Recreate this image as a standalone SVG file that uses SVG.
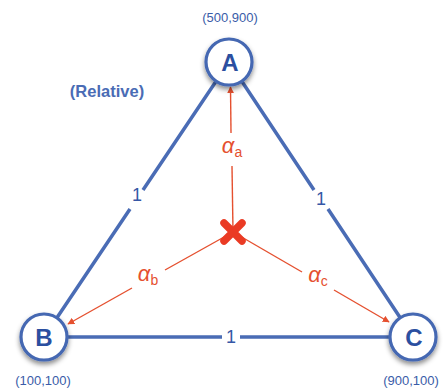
<svg xmlns="http://www.w3.org/2000/svg" width="444" height="388" viewBox="0 0 444 388">
<style>
.edge{stroke:#4a6cb5;stroke-width:3.5;fill:none;stroke-linecap:butt}
.red{stroke:#e5502f;stroke-width:1.4;fill:none}
.node{fill:#fff;stroke:#4467b2;stroke-width:3.2}
.letter{font-family:"Liberation Sans",Arial,sans-serif;font-weight:bold;font-size:24px;fill:#2b4fa0;text-anchor:middle}
.coord{font-family:"Liberation Sans",Arial,sans-serif;font-size:13px;fill:#3a5ca8;text-anchor:middle}
.one{font-family:"Liberation Sans",Arial,sans-serif;font-size:18px;fill:#3557a6;text-anchor:middle}
.alpha{font-family:"Liberation Sans",Arial,sans-serif;font-size:22px;font-style:italic;fill:#e5502f;text-anchor:middle}
.sub{font-size:14px;font-style:normal}
</style>
<defs>
<filter id="sh" x="-50%" y="-50%" width="200%" height="200%">
<feDropShadow dx="0" dy="3" stdDeviation="2.5" flood-color="#000" flood-opacity="0.45"/>
</filter>
<marker id="ah" viewBox="0 0 10 10" refX="9" refY="5" markerWidth="7" markerHeight="7" orient="auto" markerUnits="userSpaceOnUse">
<path d="M0,0 L10,5 L0,10 z" fill="#e5502f"/>
</marker>
</defs>
<g id="connectors">
<path class="edge" d="M229,62 L143,190 M130,209 L44,337"/>
<path class="edge" d="M229,62 L314,190 M328,209 L413,337"/>
<path class="edge" d="M44,337 L222,337 M240,337 L413,337"/>
<text class="one" x="137" y="201">1</text>
<text class="one" x="321" y="205">1</text>
<text class="one" x="231" y="343">1</text>
<path class="red" d="M233,232 L232,166"/>
<path class="red" d="M231,133 L230.5,87" marker-end="url(#ah)"/>
<path class="red" d="M233,232 L165,270"/>
<path class="red" d="M132,288 L68,324" marker-end="url(#ah)"/>
<path class="red" d="M233,232 L302,272"/>
<path class="red" d="M334,290 L389,322" marker-end="url(#ah)"/>
<text class="alpha" x="232" y="153">α<tspan class="sub" dy="4">a</tspan></text>
<text class="alpha" x="148" y="281">α<tspan class="sub" dy="4">b</tspan></text>
<text class="alpha" x="318" y="282">α<tspan class="sub" dy="4">c</tspan></text>
</g>
<g id="center">
<path d="M224,223 L242,241 M242,223 L224,241" stroke="#ea3b24" stroke-width="7.5" stroke-linecap="round"/>
</g>
<g id="A">
<circle class="node" cx="229" cy="62" r="23" filter="url(#sh)"/>
<text class="letter" x="230" y="71">A</text>
<text class="coord" x="230" y="22">(500,900)</text>
</g>
<g id="B">
<circle class="node" cx="44" cy="337" r="23" filter="url(#sh)"/>
<text class="letter" x="44" y="346">B</text>
<text class="coord" x="43" y="385">(100,100)</text>
</g>
<g id="C">
<circle class="node" cx="413" cy="337" r="23" filter="url(#sh)"/>
<text class="letter" x="414" y="346">C</text>
<text class="coord" x="411" y="385">(900,100)</text>
</g>
<g id="label">
<text x="107" y="97" font-family="'Liberation Sans',Arial,sans-serif" font-size="16.5" font-weight="bold" fill="#4a6cb5" text-anchor="middle">(Relative)</text>
</g>
</svg>
